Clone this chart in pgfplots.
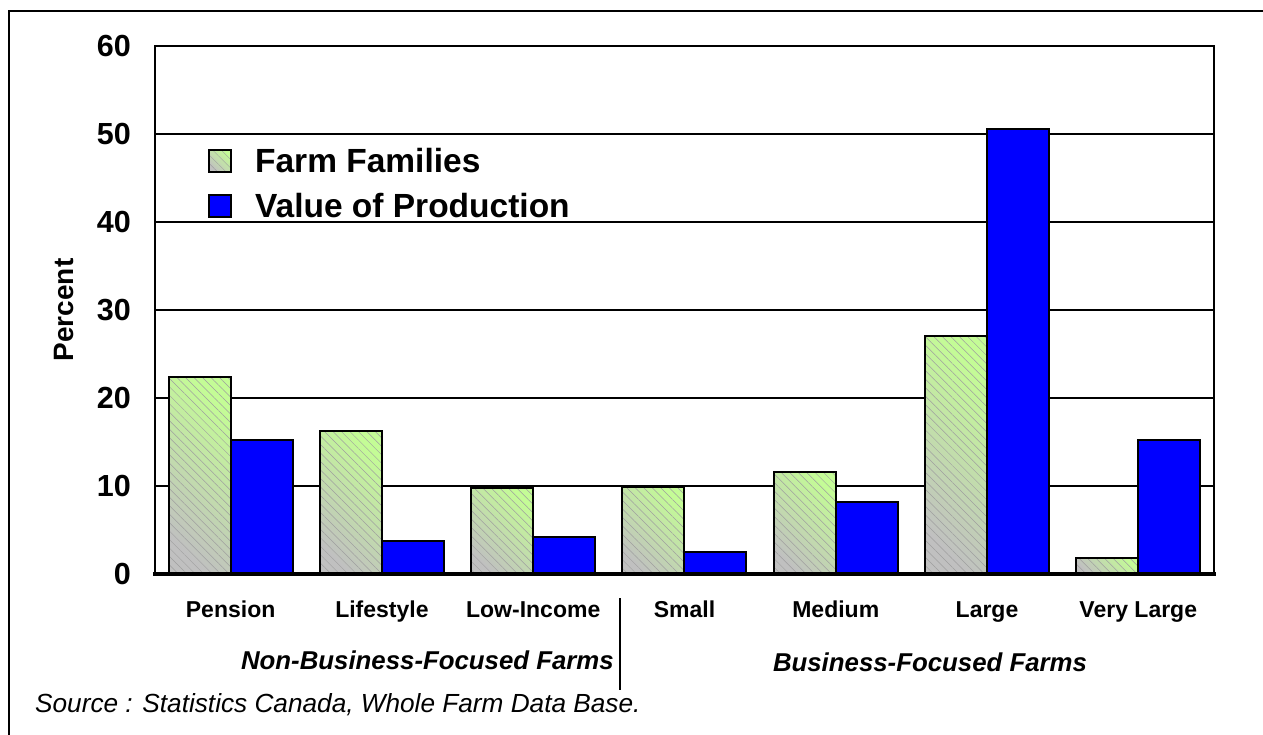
\documentclass[border=0pt]{standalone}
\usepackage{fontspec}
\setmainfont{Liberation Sans}
\usepackage{pgfplots}
\pgfplotsset{compat=1.18}
\usetikzlibrary{patterns.meta}
\definecolor{ffgreen}{RGB}{196,252,150}
\definecolor{ffgray}{RGB}{192,192,192}
\definecolor{vopblue}{RGB}{0,0,255}
\pgfplotsset{
  ffbar/.style={ybar, bar width=62pt, bar shift=-31pt, draw=black, line width=2pt,
    preaction={top color=ffgreen, bottom color=ffgray, shading angle=-45},
    pattern={Lines[angle=-45,distance=6pt,line width=0.5pt]}, pattern color=gray!75},
  vopbar/.style={ybar, bar width=62pt, bar shift=31pt, draw=black, line width=2pt, fill=vopblue},
}
\begin{document}
\begin{tikzpicture}
\useasboundingbox (0pt,0pt) rectangle (1263pt,-735pt);
\fill[white] (0pt,0pt) rectangle (1263pt,-735pt);
\draw[line width=2.5pt] (9pt,-745pt) -- (9pt,-11pt) -- (1275pt,-11pt);
\begin{axis}[
  at={(155pt,-574pt)}, anchor=south west,
  scale only axis, width=1059pt, height=528pt,
  ymin=0, ymax=60, ytick={0,10,...,60},
  xmin=-0.5, xmax=6.5, xtick={0,...,6},
  xticklabels={Pension,Lifestyle,Low-Income,Small,Medium,Large,Very Large},
  clip=false,
  axis line style={line width=2pt},
  tick style={draw=none},
  ymajorgrids, major grid style={black, line width=1.8pt},
  /pgf/number format/assume math mode=true,
  yticklabel style={font=\bfseries\fontsize{30.5}{36}\selectfont, anchor=east, inner sep=0pt, xshift=-24pt},
  xticklabel style={font=\bfseries\fontsize{23}{28}\selectfont, anchor=base, inner sep=0pt, yshift=-43pt},
  ylabel={Percent},
  ylabel style={font=\bfseries\fontsize{28}{34}\selectfont, at={(axis description cs:-0.086,0.5)}, anchor=center, inner sep=0pt},
  legend style={at={(axis description cs:0.05,0.74)}, anchor=west, draw=none, fill=none, inner sep=0pt,
    font=\bfseries\fontsize{33.5}{40}\selectfont, row sep=15pt,
    /tikz/every odd column/.append style={column sep=21pt}},
  legend cell align=left,
  legend image code/.code={\draw[#1,line width=2pt] (0pt,-11pt) rectangle (22pt,11pt);},
]
\addplot[ffbar] coordinates {(0,22.4)};
\addlegendentry{Farm Families}
\addplot[vopbar] coordinates {(0,15.2) (1,3.7) (2,4.2) (3,2.5) (4,8.2) (5,50.6) (6,15.2)};
\addlegendentry{Value of Production}
\addplot[ffbar, forget plot] coordinates {(1,16.3)};
\addplot[ffbar, forget plot] coordinates {(2,9.8)};
\addplot[ffbar, forget plot] coordinates {(3,9.9)};
\addplot[ffbar, forget plot] coordinates {(4,11.6)};
\addplot[ffbar, forget plot] coordinates {(5,27.0)};
\addplot[ffbar, forget plot] coordinates {(6,1.8)};
\draw[line width=4pt] (rel axis cs:-0.002,0) -- (rel axis cs:1.002,0);
\end{axis}
\node[anchor=east, inner sep=0pt, font=\bfseries\itshape\fontsize{25.8}{30}\selectfont] at (614pt,-660pt) {Non-Business-Focused Farms};
\node[anchor=center, inner sep=0pt, font=\bfseries\itshape\fontsize{25.8}{30}\selectfont] at (930pt,-662pt) {Business-Focused Farms};
\node[anchor=west, inner sep=0pt, font=\itshape\fontsize{26.2}{30}\selectfont] at (35pt,-705pt) {Source : Statistics Canada, Whole Farm Data Base.};
\draw[line width=1.5pt] (620pt,-598pt) -- (620pt,-690pt);
\end{tikzpicture}
\end{document}
